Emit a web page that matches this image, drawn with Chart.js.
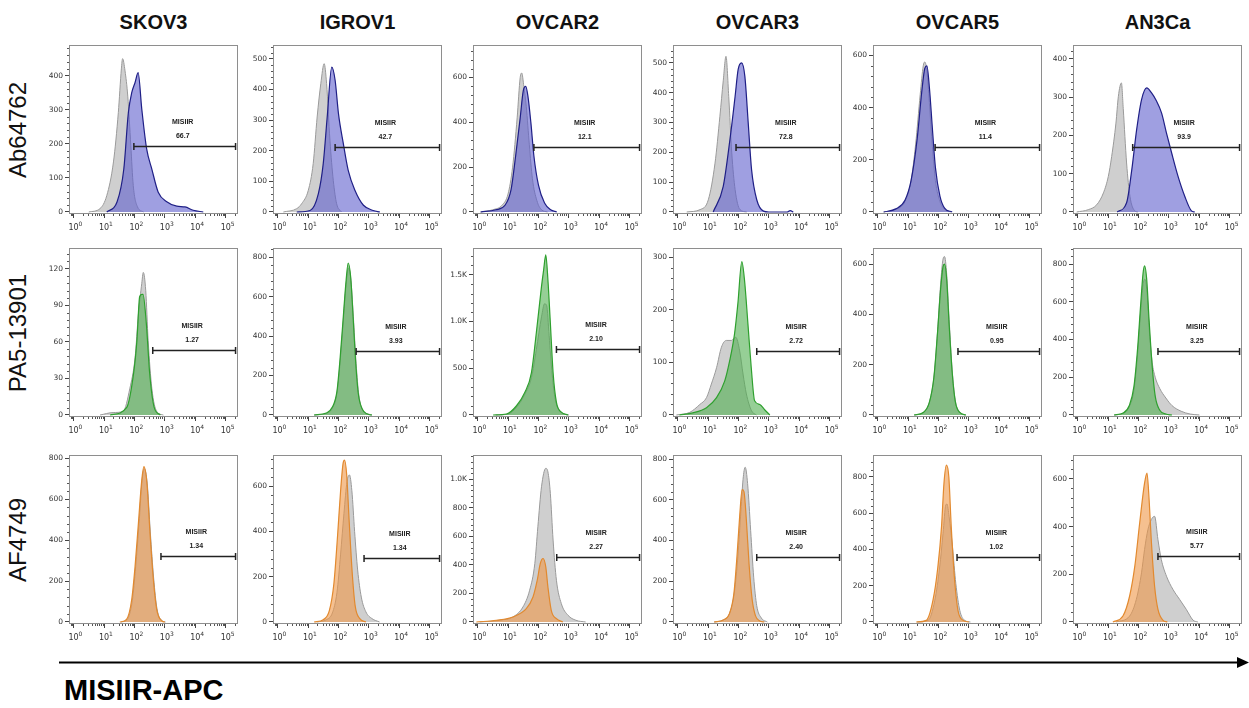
<!DOCTYPE html>
<html>
<head>
<meta charset="utf-8">
<script src="https://cdn.jsdelivr.net/npm/chart.js@4.4.0/dist/chart.umd.min.js"></script>
<style>
  body { margin: 0; width: 1249px; height: 708px; background: #fff; position: relative; overflow: hidden;
         font-family: "Liberation Sans", Arial, sans-serif; }
  canvas { position: absolute; }
  .col-title { position: absolute; top: 10px; width: 169px; text-align: center; font-weight: bold;
               font-size: 20px; line-height: 24px; color: #111; }
  .row-title { position: absolute; width: 200px; height: 30px; line-height: 30px; text-align: center;
               font-size: 24px; color: #111; transform: rotate(-90deg); }
  .axis-name { position: absolute; left: 64px; top: 673px; font-weight: bold; font-size: 29px;
               line-height: 34px; color: #000; }
  svg { position: absolute; left: 0; top: 0; }
</style>
</head>
<body>
<svg width="1249" height="708">
  <line x1="59" y1="662.5" x2="1239" y2="662.5" stroke="#000" stroke-width="2"/>
  <polygon points="1249,662.5 1237,657 1237,668" fill="#000"/>
</svg>
<div class="axis-name">MISIIR-APC</div>

<script>
// ---- data ----
const cellLines = ['SKOV3', 'IGROV1', 'OVCAR2', 'OVCAR3', 'OVCAR5', 'AN3Ca'];
const antibodies = ['Ab64762', 'PA5-13901', 'AF4749'];
const gateName = 'MISIIR';
const decades = [0, 1, 2, 3, 4, 5];

// % positive in the gate, per antibody row
const gatePct = [
    ['66.7', '42.7', '12.1', '72.8', '11.4', '93.9'],
    ['1.27', '3.93', '2.10', '2.72', '0.95', '3.25'],
    ['1.34', '1.34', '2.27', '2.40', '1.02', '5.77']
];
// gate start (log10 intensity) and the count level it is drawn at
const gateStart = [
    [1.98, 1.89, 1.85, 1.92, 1.89, 1.81],
    [2.60, 2.58, 2.59, 2.60, 2.64, 2.64],
    [2.87, 2.84, 2.60, 2.60, 2.61, 2.64]
];
const gateEnd = 5.32;
const gateCount = [
    [194, 211, 291, 218, 248, 170],
    [53, 326, 702, 122, 256, 339],
    [321, 285, 455, 318, 359, 276]
];
// y axis top and tick step
const yMax = [
    [490, 545, 745, 560, 640, 436],
    [137, 846, 1787, 318, 664, 885],
    [816, 738, 1168, 820, 920, 700]
];
const yStep = [
    [100, 100, 200, 100, 200, 100],
    [30, 200, 500, 100, 200, 200],
    [200, 200, 200, 200, 200, 200]
];

// histograms: [log10 intensity, count]; ctrl = grey isotype, smp = stained
const ab_skov3_ctrl = [[0.5,0],[0.87,10],[1.09,48],[1.31,147],[1.47,292],[1.57,420],[1.61,450],[1.69,414],[1.78,340],[1.88,195],[1.96,78],[2.1,15],[2.3,0]];
const ab_skov3_smp = [[1.09,0],[1.43,30],[1.65,126],[1.8,292],[1.91,350],[2.02,380],[2.12,409],[2.24,302],[2.4,185],[2.57,126],[2.78,58],[3.06,30],[3.39,17],[3.66,15],[3.93,5],[4.26,0]];
const ab_igrov1_ctrl = [[0.19,0],[0.63,11],[0.79,27],[1.01,71],[1.17,158],[1.3,310],[1.42,419],[1.53,484],[1.61,419],[1.72,234],[1.83,103],[1.94,27],[2.1,0]];
const ab_igrov1_smp = [[0.63,0],[1.07,5],[1.34,60],[1.5,158],[1.63,310],[1.78,473],[1.89,430],[2.0,321],[2.16,223],[2.32,136],[2.54,71],[2.82,22],[3.14,5],[3.36,0]];
const ab_ovcar2_ctrl = [[0.1,0],[0.5,10],[0.8,30],[1.0,80],[1.15,200],[1.3,420],[1.4,600],[1.45,620],[1.52,560],[1.6,470],[1.7,300],[1.8,150],[1.95,50],[2.1,10],[2.3,0]];
const ab_ovcar2_smp = [[0.1,0],[0.6,10],[0.9,30],[1.1,100],[1.25,250],[1.4,420],[1.5,540],[1.58,560],[1.65,520],[1.75,400],[1.85,250],[2.0,120],[2.2,40],[2.4,10],[2.6,0]];
const ab_ovcar3_ctrl = [[0.3,0],[0.74,8],[1.01,41],[1.23,164],[1.39,321],[1.5,440],[1.59,522],[1.68,388],[1.78,198],[1.89,75],[2.05,8],[2.27,0]];
const ab_ovcar3_smp = [[1.17,0],[1.5,86],[1.72,243],[1.89,388],[1.99,478],[2.1,500],[2.21,455],[2.32,299],[2.43,142],[2.6,41],[2.82,3],[3.0,0],[3.6,0],[3.7,5],[3.8,0]];
const ab_ovcar5_ctrl = [[0.2,0],[0.6,10],[0.9,40],[1.1,120],[1.25,260],[1.4,450],[1.5,560],[1.55,575],[1.62,540],[1.7,420],[1.8,250],[1.9,120],[2.05,40],[2.2,10],[2.4,0]];
const ab_ovcar5_smp = [[0.2,0],[0.6,12],[0.9,45],[1.1,120],[1.3,280],[1.45,460],[1.55,550],[1.62,560],[1.7,480],[1.8,320],[1.9,170],[2.05,60],[2.2,15],[2.45,0]];
const ab_an3ca_ctrl = [[-0.03,0],[0.35,6],[0.63,19],[0.85,50],[1.01,93],[1.12,145],[1.26,232],[1.34,302],[1.44,337],[1.5,270],[1.61,128],[1.72,41],[1.88,3],[1.98,0]];
const ab_an3ca_smp = [[1.3,0],[1.61,24],[1.78,110],[1.94,215],[2.1,293],[2.27,324],[2.43,311],[2.57,293],[2.76,258],[2.92,206],[3.09,154],[3.3,93],[3.52,41],[3.74,3],[3.85,0]];

const pa_skov3_ctrl = [[0.87,0],[1.3,2],[1.63,3],[1.85,22],[2.02,47],[2.13,83],[2.24,108],[2.29,117],[2.37,102],[2.45,61],[2.57,22],[2.73,3],[2.95,0]];
const pa_skov3_smp = [[1.2,0],[1.74,6],[1.97,34],[2.08,61],[2.17,97],[2.24,99],[2.28,99],[2.39,75],[2.5,34],[2.65,6],[2.85,0]];
const pa_igrov1_ctrl = [[1.2,0],[1.6,8],[1.8,35],[1.95,110],[2.05,260],[2.15,460],[2.25,660],[2.33,745],[2.41,680],[2.5,470],[2.58,260],[2.67,100],[2.8,25],[3.0,4],[3.1,0]];
const pa_igrov1_smp = [[1.2,0],[1.6,10],[1.8,40],[1.95,120],[2.05,280],[2.15,480],[2.25,680],[2.32,770],[2.4,700],[2.48,500],[2.56,280],[2.65,110],[2.78,30],[2.95,5],[3.1,0]];
const pa_ovcar2_ctrl = [[0.6,0],[1.0,10],[1.3,90],[1.55,220],[1.77,400],[1.93,700],[2.1,1050],[2.2,1190],[2.27,1170],[2.35,850],[2.45,430],[2.55,170],[2.7,45],[2.9,5],[3.0,0]];
const pa_ovcar2_smp = [[0.51,0],[0.95,11],[1.28,99],[1.55,241],[1.77,454],[1.93,880],[2.1,1376],[2.17,1553],[2.24,1713],[2.31,1447],[2.39,986],[2.48,454],[2.59,135],[2.75,30],[2.97,0]];
const pa_ovcar3_ctrl = [[-0.04,0],[0.4,5],[0.73,20],[0.95,33],[1.11,59],[1.28,90],[1.44,129],[1.6,142],[1.77,142],[1.91,148],[2.04,122],[2.15,78],[2.26,40],[2.43,8],[2.59,0]];
const pa_ovcar3_smp = [[0.06,0],[0.5,4],[0.95,14],[1.28,33],[1.55,65],[1.71,103],[1.87,154],[1.98,212],[2.11,292],[2.2,256],[2.31,174],[2.42,90],[2.53,27],[2.7,20],[2.86,10],[3.03,0]];
const pa_ovcar5_ctrl = [[1.2,0],[1.5,10],[1.7,50],[1.85,150],[1.97,330],[2.07,520],[2.15,620],[2.2,630],[2.27,560],[2.35,380],[2.45,180],[2.55,60],[2.7,10],[2.9,0]];
const pa_ovcar5_smp = [[1.2,0],[1.5,10],[1.7,50],[1.85,150],[1.97,330],[2.07,500],[2.15,590],[2.2,600],[2.27,540],[2.35,360],[2.45,170],[2.55,55],[2.7,10],[2.9,0]];
const pa_an3ca_ctrl = [[1.2,0],[1.5,10],[1.7,45],[1.85,130],[1.97,320],[2.07,540],[2.15,690],[2.21,720],[2.28,650],[2.36,440],[2.45,280],[2.55,200],[2.7,140],[2.9,90],[3.1,50],[3.4,20],[3.7,5],[4.0,0]];
const pa_an3ca_smp = [[1.2,0],[1.5,10],[1.7,50],[1.85,150],[1.97,350],[2.07,580],[2.15,750],[2.2,790],[2.27,720],[2.35,500],[2.45,260],[2.55,100],[2.7,25],[2.9,5],[3.1,0]];

const af_skov3_ctrl = [[1.55,0],[1.76,12],[1.93,105],[2.04,270],[2.15,480],[2.25,690],[2.32,750],[2.42,675],[2.52,440],[2.63,215],[2.74,65],[2.92,5],[3.02,0]];
const af_skov3_smp = [[1.52,0],[1.74,13],[1.91,110],[2.02,272],[2.13,484],[2.24,694],[2.31,759],[2.41,678],[2.51,435],[2.62,208],[2.73,62],[2.9,5],[3.0,0]];
const af_igrov1_ctrl = [[1.3,0],[1.6,10],[1.8,40],[1.95,130],[2.07,300],[2.18,480],[2.28,620],[2.36,650],[2.44,580],[2.53,400],[2.63,230],[2.75,110],[2.9,45],[3.1,15],[3.35,0]];
const af_igrov1_smp = [[1.2,0],[1.5,10],[1.7,50],[1.85,170],[1.97,380],[2.07,580],[2.15,700],[2.2,715],[2.27,650],[2.35,450],[2.45,220],[2.55,70],[2.7,15],[2.9,0]];
const af_ovcar2_ctrl = [[0.07,0],[0.73,12],[1.16,35],[1.49,105],[1.71,222],[1.88,409],[1.98,666],[2.1,946],[2.24,1075],[2.31,1050],[2.39,900],[2.48,573],[2.59,292],[2.75,129],[2.97,47],[3.23,12],[3.55,0]];
const af_ovcar2_smp = [[-0.04,0],[0.62,12],[1.16,35],[1.6,93],[1.82,175],[1.96,292],[2.06,409],[2.15,444],[2.24,385],[2.31,245],[2.42,82],[2.59,23],[2.8,0]];
const af_ovcar3_ctrl = [[1.2,0],[1.5,10],[1.7,40],[1.85,130],[1.97,300],[2.07,520],[2.15,700],[2.22,760],[2.3,680],[2.4,450],[2.5,220],[2.6,80],[2.75,20],[2.95,0]];
const af_ovcar3_smp = [[1.2,0],[1.5,10],[1.7,40],[1.85,140],[1.95,320],[2.04,520],[2.12,650],[2.18,640],[2.26,500],[2.35,280],[2.45,110],[2.56,30],[2.7,5],[2.85,0]];
const af_ovcar5_ctrl = [[1.3,0],[1.66,9],[1.88,120],[2.04,303],[2.15,488],[2.24,644],[2.28,650],[2.35,580],[2.46,414],[2.57,212],[2.7,64],[2.86,9],[3.05,0]];
const af_ovcar5_smp = [[1.27,0],[1.6,9],[1.82,120],[1.98,303],[2.1,524],[2.18,763],[2.26,864],[2.34,800],[2.42,524],[2.53,230],[2.64,64],[2.81,9],[3.0,0]];
const af_an3ca_ctrl = [[1.27,0],[1.71,25],[1.93,95],[2.1,206],[2.2,304],[2.31,387],[2.42,429],[2.53,443],[2.64,345],[2.75,262],[2.92,192],[3.13,137],[3.35,95],[3.57,53],[3.79,8],[3.95,0]];
const af_an3ca_smp = [[1.16,0],[1.49,25],[1.71,109],[1.88,234],[2.04,415],[2.2,582],[2.28,624],[2.35,512],[2.42,345],[2.53,150],[2.64,53],[2.8,8],[2.95,0]];

const controls = [
    [ab_skov3_ctrl, ab_igrov1_ctrl, ab_ovcar2_ctrl, ab_ovcar3_ctrl, ab_ovcar5_ctrl, ab_an3ca_ctrl],
    [pa_skov3_ctrl, pa_igrov1_ctrl, pa_ovcar2_ctrl, pa_ovcar3_ctrl, pa_ovcar5_ctrl, pa_an3ca_ctrl],
    [af_skov3_ctrl, af_igrov1_ctrl, af_ovcar2_ctrl, af_ovcar3_ctrl, af_ovcar5_ctrl, af_an3ca_ctrl]
];
const samples = [
    [ab_skov3_smp, ab_igrov1_smp, ab_ovcar2_smp, ab_ovcar3_smp, ab_ovcar5_smp, ab_an3ca_smp],
    [pa_skov3_smp, pa_igrov1_smp, pa_ovcar2_smp, pa_ovcar3_smp, pa_ovcar5_smp, pa_an3ca_smp],
    [af_skov3_smp, af_igrov1_smp, af_ovcar2_smp, af_ovcar3_smp, af_ovcar5_smp, af_an3ca_smp]
];

// ---- layout / style ----
const boxLeft = [69, 273, 473, 673, 873, 1073];
const boxTop = [45, 248, 455];
const boxW = 169, boxH = 169;
const padL = 34, padT = 8, padR = 8, padB = 24;
const xMin = -0.15, xMax = 5.4;

const rowStyle = [
    { fill: 'rgba(95, 95, 205, 0.6)', line: '#1f1f86' },
    { fill: 'rgba(80, 175, 80, 0.6)', line: '#2ea02e' },
    { fill: 'rgba(238, 150, 70, 0.6)', line: '#e2892e' }
];
const ctrlStyle = { fill: 'rgba(175, 175, 175, 0.6)', line: '#9a9a9a' };

// box outline, minor ticks and the 10^n labels
const framePlugin = {
    id: 'frame',
    afterDraw(chart, args, opts) {
        const { ctx, chartArea: a, scales: { x, y } } = chart;
        ctx.save();
        ctx.strokeStyle = '#8e8e8e';
        ctx.lineWidth = 1;
        ctx.strokeRect(a.left + 0.5, a.top + 0.5, a.right - a.left - 1, a.bottom - a.top - 1);

        ctx.strokeStyle = '#555';
        ctx.beginPath();
        for (let d = -1; d < 6; d++) {
            for (let k = 2; k < 10; k++) {
                const v = d + Math.log10(k);
                if (v <= xMin || v >= xMax) continue;
                const px = Math.round(x.getPixelForValue(v)) + 0.5;
                ctx.moveTo(px, a.bottom);
                ctx.lineTo(px, a.bottom + 2);
            }
        }
        const minor = opts.step / 5;
        for (let i = 1; i * minor < y.max; i++) {
            if (i % 5 === 0) continue;
            const py = Math.round(y.getPixelForValue(i * minor)) + 0.5;
            ctx.moveTo(a.left, py);
            ctx.lineTo(a.left - 2, py);
        }
        ctx.stroke();

        ctx.fillStyle = '#333';
        ctx.textBaseline = 'alphabetic';
        decades.forEach(d => {
            const px = x.getPixelForValue(d);
            ctx.font = '8px "DejaVu Sans", sans-serif';
            ctx.textAlign = 'center';
            ctx.fillText('10', px, a.bottom + 16);
            ctx.font = '6px "DejaVu Sans", sans-serif';
            ctx.textAlign = 'left';
            ctx.fillText(String(d), px + 5, a.bottom + 12);
        });
        ctx.restore();
    }
};

// the MISIIR gate bar
const gatePlugin = {
    id: 'gate',
    afterDatasetsDraw(chart, args, opts) {
        const { ctx, scales: { x, y } } = chart;
        const x1 = x.getPixelForValue(opts.start);
        const x2 = x.getPixelForValue(gateEnd);
        const py = Math.round(y.getPixelForValue(opts.count)) + 0.5;
        ctx.save();
        ctx.strokeStyle = '#222';
        ctx.lineWidth = 1.5;
        ctx.beginPath();
        ctx.moveTo(x1, py); ctx.lineTo(x2, py);
        ctx.moveTo(x1, py - 3.5); ctx.lineTo(x1, py + 3.5);
        ctx.moveTo(x2, py - 3.5); ctx.lineTo(x2, py + 3.5);
        ctx.stroke();
        const mid = (x1 + x2) / 2 - 2;
        ctx.fillStyle = '#222';
        ctx.font = 'bold 7px "Liberation Sans", Arial, sans-serif';
        ctx.textAlign = 'center';
        ctx.textBaseline = 'middle';
        ctx.fillText(gateName, mid, py - 24);
        ctx.fillText(opts.pct, mid, py - 10);
        ctx.restore();
    }
};

function makePanel(r, c) {
    const canvas = document.createElement('canvas');
    canvas.width = padL + boxW + padR;
    canvas.height = padT + boxH + padB;
    canvas.style.left = (boxLeft[c] - padL) + 'px';
    canvas.style.top = (boxTop[r] - padT) + 'px';
    document.body.appendChild(canvas);

    const top = yMax[r][c];
    const step = yStep[r][c];
    const st = rowStyle[r];

    new Chart(canvas, {
        type: 'line',
        data: {
            datasets: [{
                data: samples[r][c],
                borderColor: st.line,
                backgroundColor: st.fill,
                borderWidth: 1.2,
                fill: 'origin'
            }, {
                data: controls[r][c],
                borderColor: ctrlStyle.line,
                backgroundColor: ctrlStyle.fill,
                borderWidth: 1,
                fill: 'origin'
            }]
        },
        options: {
            responsive: false,
            animation: false,
            events: [],
            layout: { padding: { left: 0, top: padT, right: padR, bottom: 0 } },
            elements: {
                point: { radius: 0 },
                line: { cubicInterpolationMode: 'monotone' }
            },
            plugins: {
                legend: { display: false },
                tooltip: { enabled: false },
                frame: { step: step },
                gate: { start: gateStart[r][c], count: gateCount[r][c], pct: gatePct[r][c] }
            },
            scales: {
                x: {
                    type: 'linear',
                    min: xMin,
                    max: xMax,
                    afterBuildTicks: (s) => { s.ticks = decades.map(v => ({ value: v })); },
                    afterFit: (s) => { s.height = padB; },
                    grid: { drawOnChartArea: false, tickLength: 4, color: '#444' },
                    border: { display: false },
                    ticks: { display: false }
                },
                y: {
                    min: -top * 0.012,
                    max: top,
                    afterBuildTicks: (s) => {
                        const t = [];
                        for (let v = 0; v <= top; v += step) t.push({ value: v });
                        s.ticks = t;
                    },
                    afterFit: (s) => { s.width = padL; },
                    grid: { drawOnChartArea: false, tickLength: 4, color: '#444' },
                    border: { display: false },
                    ticks: {
                        padding: 2,
                        color: '#333',
                        font: { family: '"DejaVu Sans", sans-serif', size: 7.5 },
                        callback: (v) => v >= 1000 ? (v / 1000).toFixed(1) + 'K' : v
                    }
                }
            }
        },
        plugins: [framePlugin, gatePlugin]
    });
}

cellLines.forEach((name, c) => {
    const d = document.createElement('div');
    d.className = 'col-title';
    d.style.left = boxLeft[c] + 'px';
    d.textContent = name;
    document.body.appendChild(d);
});

antibodies.forEach((name, r) => {
    const d = document.createElement('div');
    d.className = 'row-title';
    d.style.left = (18 - 100) + 'px';
    d.style.top = (boxTop[r] + boxH / 2 - 15) + 'px';
    d.textContent = name;
    document.body.appendChild(d);
});

for (let r = 0; r < antibodies.length; r++) {
    for (let c = 0; c < cellLines.length; c++) {
        makePanel(r, c);
    }
}
</script>
</body>
</html>
